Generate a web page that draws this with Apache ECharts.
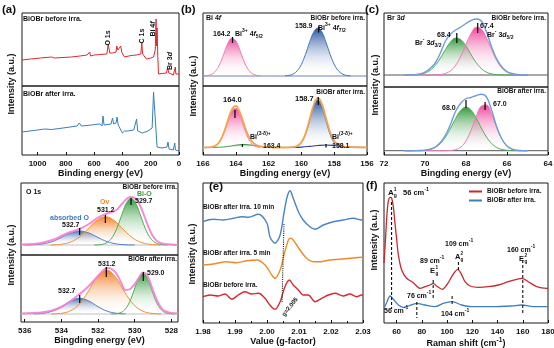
<!DOCTYPE html>
<html><head><meta charset="utf-8">
<script src="https://cdn.jsdelivr.net/npm/echarts@6/dist/echarts.min.js"></script>
<style>html,body{margin:0;padding:0;background:#fff}#c{width:554px;height:348px}</style>
</head><body><div id="c"></div>
<script>
const FONT = '"Liberation Sans", Arial, "DejaVu Sans", sans-serif';
const INK = '#111';

// ================= DATA =================
// (a) XPS survey, binding energy (eV) vs intensity (a.u.)
const aTopX = [1110,1050,980,900,880,820,760,700,650,632,625,600,560,510,500,490,470,445,440,432,418,412,405,385,380,375,340,300,270,263,257,230,200,180,168,162,158,155,150,145,120,90,80,72,40,30,26,22,10,0];
const aTopY = [26,27,28,29,28,28.5,29,30,31,34,30,31,31.5,32,42,33,33,34,40,36,36,40,34,29,31,29,30.5,31,32,43,32,27,28,29,36,67,40,58,30,12,12.5,13,18,13,11,12,19,12,13,12];
const aBotX = [1110,1000,950,900,820,720,705,690,620,560,545,537,530,480,470,462,445,438,430,400,385,360,320,300,292,260,220,190,180,172,165,155,120,85,78,70,40,30,25,0];
const aBotY = [23,25,26,25.5,27,29,32,29,30,31,29,39,30,31,37,31,32,38,30,22,24,24,25,36,24,22,24,27,63,62,30,8,7,8,13,6,5,12,5,4];

// (b) Bi 4f
const bBaseX = [156,166];
const bTopBaseY = [10,10];
const bTopPinkX = [162.5,162.75,163,163.25,163.5,163.75,164,164.25,164.5,164.75,165,165.25,165.5,165.75,166];
const bTopPinkY = [10.2,10.7,12.4,16.7,24.8,35.8,45.2,47.8,42.0,31.2,21.1,14.6,11.5,10.4,10.1];
const bBlueX = [157,157.25,157.5,157.75,158,158.25,158.5,158.75,159,159.25,159.5,159.75,160,160.25,160.5,160.75,161];
const bTopBlueY = [10.2,10.6,12.0,15.3,21.7,31.7,43.7,54.0,58,54.0,43.7,31.7,21.7,15.3,12.0,10.6,10.2];
const bBotPinkX = [162.5,162.75,163,163.25,163.5,163.75,164,164.25,164.5,164.75,165,165.25,165.5,165.75];
const bBotPinkY = [7.7,8.4,10.9,17.1,27.7,39.9,46.8,43.6,32.7,20.9,12.8,9.1,7.9,7.6];
const bBotBlueY = [7.5,7.5,7.8,8.8,12.3,20.6,34.3,48.7,55,48.7,34.3,20.6,12.3,8.8,7.8,7.5,7.5];
const bBotGreenX = [161,161.5,162,162.5,163,163.5,164,164.5,165,165.5,166];
const bBotGreenY = [7.5,7.5,7.8,8.5,9.8,10.5,9.8,8.5,7.8,7.5,7.5];
const bBotNavyX = [156,156.5,157,157.5,158,158.5,159,159.5,160,160.5,161];
const bBotNavyY = [7.5,7.6,7.9,8.6,9.5,10,9.5,8.6,7.9,7.6,7.5];
const bBotEnvX = [156,157,157.25,157.5,157.75,158,158.25,158.5,158.75,159,159.25,159.5,159.75,160,160.25,160.5,161,161.5,162,162.25,162.5,162.75,163,163.25,163.5,163.75,164,164.25,164.5,164.75,165,165.25,165.5,165.75,166];
const bBotEnvY = [7.5,7.9,8.2,8.9,10.4,14.3,23.0,36.8,51.1,57.0,50.3,35.4,21.3,12.7,9.0,7.9,7.5,7.5,7.8,8.1,8.7,10.0,13.2,19.9,30.7,42.7,49.1,45.2,33.7,21.5,13.1,9.2,7.9,7.6,7.5];
const bTopMarks = [[164.2,49,43],[158.95,59.5,53.5]];
const bBotMarks = [[164.05,45,37],[158.97,58,50],[163.6,11,8],[158.5,11,7.5]];

// (c) Br 3d
const cBaseX = [64,72];
const cTopBaseY = [12,12];
const cBotBaseY = [4.3,4.3];
const cX = [65,65.25,65.5,65.75,66,66.25,66.5,66.75,67,67.25,67.5,67.75,68,68.25,68.5,68.75,69,69.25,69.5,69.75,70,70.25,70.5,70.75,71];
const cTopGreenY = [12,12,12,12,12,12.1,12.4,13.1,14.8,18.4,24.3,32.3,40.9,47.3,48.9,45.2,37.6,28.9,21.6,16.7,14.0,12.7,12.2,12.1,12];
const cTopPinkY = [12,12.1,12.3,13.0,14.8,18.9,26.4,37.3,49.1,57.9,59.7,53.6,42.6,30.9,21.8,16.3,13.6,12.5,12.1,12,12,12,12,12,12];
const cTopEnvY = [12,12.1,12.5,13.5,15.5,20,28,40,55,66,68,66.5,63.5,60,57,53,46,34,24,18.5,14.8,13,12.3,12.1,12];
const cBotGreenY = [4.3,4.3,4.33,4.43,4.73,5.56,7.5,11.5,18.0,27.0,36.8,44.7,47.7,44.7,36.8,27.0,18.0,11.5,7.5,5.56,4.73,4.43,4.33,4.3,4.3];
const cBotPinkY = [4.3,4.37,4.64,5.7,8.8,15.9,27.7,41.2,50.1,49.0,38.6,25.0,14.1,8.0,5.37,4.55,4.35,4.3,4.3,4.3,4.3,4.3,4.3,4.3,4.3];
const cBotEnvY = [4.3,4.4,4.7,5.8,9,16,28,45,58,60.7,59.5,57.5,56.5,52,44,31,20,12.5,8,5.8,4.9,4.5,4.35,4.3,4.3];
const cTopMarks = [[68.45,54,44],[67.43,64,54]];
const cBotMarks = [[68.0,55,47],[67.07,53,45]];

// (d) O 1s
const dBaseX = [527.64,536.2];
const dTopBaseY = [10,10];
const dBotBaseY = [8,8];
const dTopBlueX = [530,530.5,531,531.5,532,532.5,533,533.5,534,534.5,535,535.5,536];
const dTopBlueY = [10.05,10.28,11.1,13.4,17.5,22.0,24,22.0,17.5,13.4,11.1,10.3,10.05];
const dTopOrangeX = [528.6,529.1,529.6,530.1,530.6,531.1,531.6,532.1,532.6,533.1,533.6,534.1,534.6];
const dTopOrangeY = [10.1,10.57,12.3,16.9,25.1,34.2,38.3,34.2,25.1,16.9,12.3,10.57,10.1];
const dTopGreenX = [528.2,528.45,528.7,528.95,529.2,529.45,529.7,529.95,530.2,530.45,530.7,530.95,531.2,531.45,531.7,531.95,532.2];
const dTopGreenY = [10.05,10.24,10.98,13.2,18.4,27.8,40.4,51.9,56.7,51.9,40.4,27.8,18.4,13.2,10.98,10.24,10.05];
const dTopPinkX = [527.64,528,528.5,528.75,529,529.25,529.5,529.75,530,530.25,530.5,530.75,531,531.5,532,532.5,533,533.5,534,534.5,535,535.5,536.2];
const dTopPinkY = [10,10.5,11.5,13.5,18.5,28,40,51,57,58,55,50,45,41.5,37.5,31,26,23,19,15,12.5,11,10.5];
const dBotBlueX = [530.5,531,531.5,532,532.5,533,533.5,534,534.5,535,535.5];
const dBotBlueY = [8.13,8.74,10.8,15.3,21.0,23.7,21.0,15.3,10.8,8.74,8.13];
const dBotOrangeX = [528.55,529.05,529.55,530.05,530.55,531.05,531.55,532.05,532.55,533.05,533.55,534.05,534.55];
const dBotOrangeY = [8.09,8.58,10.8,17.3,30,45,52,45,30,17.3,10.8,8.58,8.09];
const dBotGreenX = [527.8,528.05,528.3,528.55,528.8,529.05,529.3,529.55,529.8,530.05,530.3,530.55,530.8,531.05,531.3];
const dBotGreenY = [8.04,8.23,9.14,12.1,19.2,31.0,43.3,48.7,43.3,31.0,19.2,12.1,9.14,8.23,8.04];
const dBotPinkX = [527.64,528,528.3,528.55,528.8,529.05,529.3,529.55,529.75,530,530.25,530.5,530.75,531,531.25,531.5,531.75,532,532.5,533,533.5,534,534.5,535,535.5,536.2];
const dBotPinkY = [8.5,9,10.5,14,22,34,46,49.5,45,38,33,32,40,48.5,53,54,51,46,36,28,21,15,11.5,9.8,9,8.5];
const dTopMarks = [[530.2,57,50],[531.6,40,32],[533.0,27,20]];
const dBotMarks = [[531.55,55,45],[529.53,50,41],[533.0,27,19]];

// (e) EPR, g-factor vs intensity
const eBlueX = [1.98,1.9832,1.9864,1.9895,1.9921,1.9942,1.9973,2.0,2.0009,2.0025,2.0041,2.0053,2.0063,2.0072,2.0082,2.0098,2.0113,2.0134,2.015,2.0176,2.0207,2.0238,2.027,2.0296,2.03];
const eBlueY = [101.3,103.7,103,104.7,106.3,105.7,108.7,99.7,86.3,79.7,88,110,126.3,132.3,124.7,111.3,103,96.3,93.7,98,101.3,103,104.7,103,103];
const eOrangeX = [1.98,1.9832,1.9874,1.9905,1.9937,1.9968,1.9994,2.0015,2.0025,2.0041,2.0053,2.0067,2.0075,2.0088,2.0103,2.0124,2.0145,2.0166,2.0197,2.0228,2.0259,2.0296,2.03];
const eOrangeY = [58,59,61.3,60.3,62.3,63,58,48,44.7,53,68,83,84.7,80.3,73,64.7,61.3,61.3,63,63.7,64.7,65.7,65.7];
const eRedX = [1.98,1.9822,1.9848,1.9869,1.989,1.991,1.9931,1.9952,1.9973,1.9994,2.0009,2.0025,2.0041,2.0056,2.007,2.0082,2.0098,2.0113,2.0129,2.015,2.0171,2.0192,2.0213,2.0238,2.0259,2.028,2.0296,2.03];
const eRedY = [26.3,28,27,29,23.7,28,31.3,29,29.7,24.7,18,13.7,21.3,36.3,43,38,33,28,28,21.3,24.7,28,29.7,27,29,26.3,28,28];
const eDotX = [2.0053,2.0047];
const eDotY = [99,20];

// (f) Raman
const fRedX = [50,51.3,52.4,53.4,54.8,56.1,57.4,58.7,60.1,61.4,64,68,73.2,78.5,82.5,86.5,89.1,91.8,96.2,99.7,103.7,106.3,108.4,111,114.2,118.2,124.8,132.7,140.6,148.5,155.2,159.2,164.4,171.1,179,180];
const fRedY = [60,86.3,109.7,121.3,125.7,124.7,116.3,99.7,83,68,53,44.7,40.3,34.7,36.3,38,39.7,37,33.7,38,46.3,51.3,53.7,49.7,41.3,37,35.7,36.3,38,41.3,43.7,44.7,41.3,36.3,34.7,34.7];
const fBlueX = [50,52.1,54.8,57.4,61.4,65.3,69.3,75.9,82.5,90.4,97,104.1,111.5,119.4,135.2,151.1,159,169.6,180];
const fBlueY = [14.7,20.3,27,23.7,18,15.7,17,19.7,18,16.3,19.7,21.3,18,16.3,16.3,17,18,16.3,16.3];
const fDash = [[56,121,14],[76,21,5],[89,43,25],[104,27,18],[109,61,52],[160,63,10]];
const fTicks = [60,80,100,120,140,160,180];
const dTicks = [528,530,532,534,536];

// ================= LAYOUT =================
const GRIDS = [
  [22,13,157,73],[22,86,157,69],
  [203,13,164,73],[203,86,164,69],
  [384,13,164,74],[384,87,164,68],
  [21,183,157,72],[21,255,157,67],
  [203,183,160,140],
  [384,183,164,140]
];
const PANELS = [
  {grids:[0,1], x:{min:0,max:1110,inverse:true,interval:200,fmt:v=>String(v),name:'Binding energy (eV)'}},
  {grids:[2,3], x:{min:156,max:166,inverse:true,interval:2,name:'Bingding energy (eV)'}},
  {grids:[4,5], x:{min:64,max:72,inverse:true,interval:2,name:'Bingding energy (eV)'}},
  {grids:[6,7], x:{min:527.64,max:536.2,inverse:true,custom:dTicks,name:'Bingding energy (eV)'}},
  {grids:[8], x:{min:1.98,max:2.03,interval:0.01,fmt:v=>v.toFixed(2),minor:true,name:'Value (g-factor)'}},
  {grids:[9], x:{min:50,max:180,custom:fTicks,name:'{n|Raman shift (cm}{p|-1}{n|)}'}}
];

function richSet(fs, c) {
  const f = {fontFamily:FONT, fontWeight:'bold', fill:c, color:c};
  const s = Math.round(fs*0.72*10)/10;
  return {
    n:{...f, fontSize:fs, lineHeight:fs+4},
    i:{...f, fontSize:fs, fontStyle:'italic', lineHeight:fs+4},
    p:{...f, fontSize:s, lineHeight:s, verticalAlign:'top'},
    b:{...f, fontSize:s, lineHeight:s, verticalAlign:'bottom'}
  };
}

const grid = [], xAxis = [], yAxis = [];
GRIDS.forEach(g => {
  grid.push({left:g[0], top:g[1], width:g[2], height:g[3], show:true, borderColor:'#1a1a1a', borderWidth:1, backgroundColor:'transparent', containLabel:false, outerBoundsMode:'none'});
  yAxis.push({type:'value', gridIndex:grid.length-1, min:0, max:g[3], show:false});
});
PANELS.forEach(p => {
  p.grids.forEach((gi, k) => {
    const bottom = k === p.grids.length-1;
    const c = p.x;
    const ax = {type:'value', gridIndex:gi, min:c.min, max:c.max, inverse:!!c.inverse, axisLine:{show:false}, splitLine:{show:false}};
    if (!bottom) { ax.axisTick = {show:false}; ax.axisLabel = {show:false}; xAxis[gi] = ax; return; }
    if (c.interval) ax.interval = c.interval;
    ax.axisTick = {show:true, inside:true, length:3, lineStyle:{color:INK, width:1}};
    ax.axisLabel = {show:true, margin:5, color:INK, fontSize:8, fontWeight:'bold', fontFamily:FONT};
    if (c.fmt) ax.axisLabel.formatter = c.fmt;
    if (c.custom) { ax.axisTick.customValues = c.custom; ax.axisLabel.customValues = c.custom; }
    if (c.minor) ax.minorTick = {show:true, splitNumber:2, length:2, lineStyle:{color:INK}};
    ax.name = c.name; ax.nameLocation = 'middle'; ax.nameGap = 14;
    ax.nameTextStyle = {fontSize:9, fontWeight:'bold', fontFamily:FONT, color:INK, rich:richSet(9, INK)};
    xAxis[gi] = ax;
  });
});

// ================= SERIES =================
function grad(c){ return {type:'linear',x:0,y:0,x2:0,y2:1,colorStops:[{offset:0,color:c},{offset:1,color:'rgba(255,255,255,0)'}]}; }
const series = [];
function S(gi, xs, ys, color, w, o = {}) {
  const s = {type:'line', xAxisIndex:gi, yAxisIndex:gi, data:xs.map((x,i)=>[x, ys[i]]), symbol:'none',
    smooth: o.smooth === undefined ? 0.4 : o.smooth, lineStyle:{color, width:w, type:o.dash||'solid'},
    itemStyle:{color}, z:o.z||2, silent:true, animation:false};
  if (o.fill) s.areaStyle = {color:grad(o.fill), origin:o.origin, opacity:1};
  if (o.name) s.name = o.name;
  series.push(s);
}
function marks(gi, list, color, w, dash) {
  list.forEach(m => S(gi, [m[0], m[0]], [m[1], m[2]], color||'#000', w||1.2, {smooth:false, z:6, dash}));
}

const PINK_L = '#f07ab8', PINK_F = 'rgba(236,55,145,0.92)';
const BLUE_L = '#4577b8', BLUE_F = 'rgba(25,75,155,0.95)';
const GREEN_L = '#4fae55', GREEN_F = 'rgba(35,145,45,0.92)';
const ORANGE_L = '#f0922e', ORANGE_F = 'rgba(240,115,15,0.92)';

// (a)
S(0, aTopX, aTopY, '#e0282e', 1, {smooth:false});
S(1, aBotX, aBotY, '#3a7dc0', 1, {smooth:false});
// (b)
S(2, bBaseX, bTopBaseY, '#6a80c4', 1, {smooth:false});
S(2, bTopPinkX, bTopPinkY, PINK_L, 1, {fill:PINK_F, origin:10});
S(2, bBlueX, bTopBlueY, BLUE_L, 1, {fill:BLUE_F, origin:10});
S(3, bBotNavyX, bBotNavyY, '#2a3a9a', 1.1);
S(3, bBotGreenX, bBotGreenY, '#3a9a40', 1, {fill:'rgba(50,160,50,0.8)', origin:7.5});
S(3, bBotPinkX, bBotPinkY, PINK_L, 1, {fill:PINK_F, origin:7.5});
S(3, bBlueX, bBotBlueY, BLUE_L, 1, {fill:BLUE_F, origin:7.5});
S(3, bBotEnvX, bBotEnvY, '#f5a348', 1.8, {z:3});
marks(2, bTopMarks); marks(3, bBotMarks);
// (c)
S(4, cBaseX, cTopBaseY, '#555', 1, {smooth:false});
S(4, cX, cTopGreenY, GREEN_L, 1, {fill:GREEN_F, origin:12});
S(4, cX, cTopPinkY, PINK_L, 1, {fill:PINK_F, origin:12});
S(4, cX, cTopEnvY, '#6f9ddb', 1.4, {z:3});
S(5, cBaseX, cBotBaseY, '#555', 1, {smooth:false});
S(5, cX, cBotGreenY, GREEN_L, 1, {fill:GREEN_F, origin:4.3});
S(5, cX, cBotPinkY, PINK_L, 1, {fill:PINK_F, origin:4.3});
S(5, cX, cBotEnvY, '#6f9ddb', 1.4, {z:3});
marks(4, cTopMarks); marks(5, cBotMarks);
// (d)
S(6, dBaseX, dTopBaseY, '#b0b0b0', 0.8, {smooth:false});
S(6, dTopBlueX, dTopBlueY, '#4a82c4', 1, {fill:'rgba(40,95,170,0.88)', origin:10});
S(6, dTopOrangeX, dTopOrangeY, ORANGE_L, 1, {fill:ORANGE_F, origin:10});
S(6, dTopGreenX, dTopGreenY, GREEN_L, 1, {fill:GREEN_F, origin:10});
S(6, dTopPinkX, dTopPinkY, 'rgba(245,125,210,0.9)', 2, {z:3});
S(7, dBaseX, dBotBaseY, '#b0b0b0', 0.8, {smooth:false});
S(7, dBotBlueX, dBotBlueY, '#4a82c4', 1, {fill:'rgba(40,95,170,0.88)', origin:8});
S(7, dBotOrangeX, dBotOrangeY, ORANGE_L, 1, {fill:ORANGE_F, origin:8});
S(7, dBotGreenX, dBotGreenY, GREEN_L, 1, {fill:GREEN_F, origin:8});
S(7, dBotPinkX, dBotPinkY, 'rgba(245,125,210,0.9)', 2, {z:3});
marks(6, dTopMarks); marks(7, dBotMarks);
// (e)
S(8, eBlueX, eBlueY, '#4a84c4', 1.4, {smooth:0.3});
S(8, eOrangeX, eOrangeY, '#ee8a2a', 1.4, {smooth:0.3});
S(8, eRedX, eRedY, '#d8282c', 1.4, {smooth:0.3});
S(8, eDotX, eDotY, '#222', 1.1, {smooth:false, dash:'dotted', z:6});
// (f)
S(9, fRedX, fRedY, '#c8282e', 1.3, {smooth:0.3, name:'BiOBr before irra.'});
S(9, fBlueX, fBlueY, '#3f7fc0', 1.3, {smooth:0.3, name:'BiOBr after irra.'});
fDash.forEach(m => S(9, [m[0], m[0]], [m[1], m[2]], '#111', 1.1, {smooth:false, dash:[3,2], z:6}));

// ================= TEXT =================
const graphic = [];
function T(x, y, text, o = {}) {
  const fs = o.fs || 7, c = o.color || INK;
  graphic.push({type:'text', x, y, rotation:o.rot||0, z:100, silent:true,
    style:{text, align:o.align||'left', verticalAlign:'middle', fill:c,
      font:`${o.w||'bold'} ${fs}px ${FONT}`, rich:richSet(fs, c)}});
}
function STK(x, y, main, sup, sub, fs) {
  T(x, y, main, {fs});
  const dx = fs*0.72;
  T(x+dx, y-fs*0.42, sup, {fs:fs*0.62});
  T(x+dx, y+fs*0.38, sub, {fs:fs*0.62});
}
const R90 = Math.PI/2;
// panel letters
T(2,10,'(a)',{fs:11.5}); T(181,10,'(b)',{fs:11.5}); T(365,10,'(c)',{fs:11.5});
T(209,187,'(e)',{fs:11.5}); T(366,186,'(f)',{fs:11.5});
// y names
[[12,84],[194,86],[376,85],[12,255],[193,254],[375,240]].forEach(p => T(p[0],p[1],'Intensity (a.u.)',{fs:9,rot:R90,align:'center'}));
// (a)
T(23,19,'BiOBr before irra.');
T(108,38,'O 1s',{rot:R90,align:'center'});
T(142,36,'C 1s',{rot:R90,align:'center'});
T(153,29,'{n|Bi 4}{i|f}',{rot:R90,align:'center'});
T(170,61,'{n|Br 3}{i|d}',{rot:R90,align:'center'});
T(23,94,'BiOBr after irra.');
// (b)
T(206,18,'{n|Bi 4}{i|f}');
T(365,18,'BiOBr before irra.',{align:'right',fs:6.5});
T(213,34,'164.2');
T(235,34,'{n|Bi}{p|3+}{n| 4}{i|f}{b|5/2}');
T(295,26,'158.9');
T(318,28,'{n|Bi}{p|3+}{n| 4}{i|f}{b|7/2}');
T(365,92,'BiOBr after irra.',{align:'right',fs:6.5});
T(223,100,'164.0',{fs:7.5});
T(295,99,'158.7',{fs:7.5});
T(250,137,'{n|Bi}{p|(3-δ)+}');
T(263,146,'163.4');
T(332,137,'{n|Bi}{p|(3-δ)+}');
T(332,146,'158.1');
// (c)
T(387,18,'{n|Br 3}{i|d}');
T(546,18,'BiOBr before irra.',{align:'right',fs:6.5});
T(437,35,'68.4');
T(415,43,'{n|Br}{p|-}{n| 3}{i|d}{b|3/2}');
T(480,26,'67.4');
T(487,35,'{n|Br}{p|-}{n| 3}{i|d}{b|5/2}');
T(546,91,'BiOBr after irra.',{align:'right',fs:6.5});
T(442,108,'68.0');
T(493,104,'67.0');
// (d)
T(26,192,'O 1s');
T(177,187,'BiOBr before irra.',{align:'right',fs:6.5});
T(137,194,'Bi-O',{color:'#3aa040'});
T(135,201,'529.7');
T(100,202,'Ov',{color:'#f08c1e'});
T(97,210,'531.2');
T(50,218,'absorbed O',{color:'#3f78c0'});
T(62,225,'532.7');
T(177,259,'BiOBr after irra.',{align:'right',fs:6.5});
T(98,264,'531.2');
T(147,273,'529.0');
T(58,291,'532.7');
// (e)
T(203,207,'BiOBr after irra. 10 min',{fs:6.5});
T(203,253,'BiOBr after irra. 5 min',{fs:6.5});
T(203,285,'BiOBr before irra.',{fs:6.5});
T(290,307,'g=2.005',{fs:6,rot:0.9,align:'center'});
// (f)
STK(388,193,'A','1','g',8);
T(403,193,'{n|56 cm}{p|-1}',{fs:7.5});
T(445,244,'{n|109 cm}{p|-1}');
STK(455,257,'A','2','g',7.5);
T(420,261,'{n|89 cm}{p|-1}');
STK(430,271,'E','1','g',7.5);
T(507,250,'{n|160 cm}{p|-1}');
STK(519,259,'E','2','g',7.5);
T(407,296,'{n|76 cm}{p|-1}');
T(384,311,'{n|56 cm}{p|-1}');
T(441,314,'{n|104 cm}{p|-1}');

const chart = echarts.init(document.getElementById('c'), null, {renderer:'canvas'});
chart.setOption({
  animation:false,
  backgroundColor:'#fff',
  grid, xAxis, yAxis, series, graphic,
  legend:{data:['BiOBr before irra.','BiOBr after irra.'], orient:'vertical', left:469, top:188, itemWidth:13, itemHeight:2, icon:'rect', itemGap:2, padding:0, selectedMode:false,
    textStyle:{fontSize:6.5, fontWeight:'bold', fontFamily:FONT, color:INK, lineHeight:7}}
});
</script></body></html>
